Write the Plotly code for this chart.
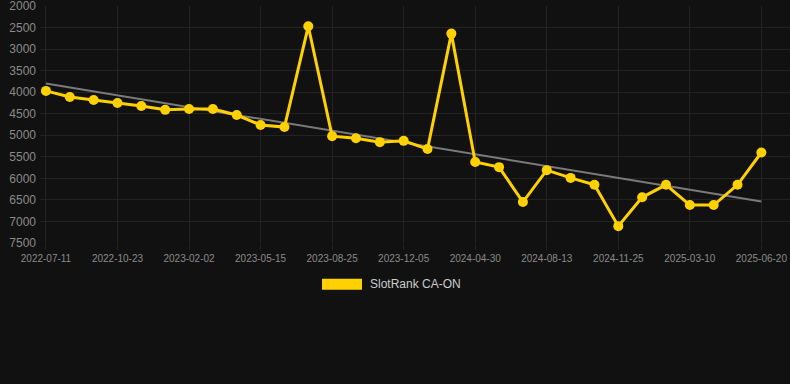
import plotly.graph_objects as go

dates = ["2022-07-11", "2022-08-15", "2022-09-19", "2022-10-23", "2022-11-26", "2022-12-30",
         "2023-02-02", "2023-03-08", "2023-04-11", "2023-05-15", "2023-06-18", "2023-07-22",
         "2023-08-25", "2023-09-28", "2023-11-01", "2023-12-05", "2024-01-23", "2024-03-12",
         "2024-04-30", "2024-06-04", "2024-07-09", "2024-08-13", "2024-09-16", "2024-10-21",
         "2024-11-25", "2024-12-29", "2025-02-04", "2025-03-10", "2025-04-13", "2025-05-17",
         "2025-06-20"]
ranks = [3970, 4110, 4180, 4250, 4320, 4410, 4390, 4390, 4530, 4760, 4810, 2470,
         5020, 5070, 5160, 5130, 5320, 2640, 5620, 5740, 6550, 5810, 5990, 6150,
         7110, 6440, 6150, 6620, 6620, 6150, 5400]
tick_labels = dates[::3]
y_ticks = [2000, 2500, 3000, 3500, 4000, 4500, 5000, 5500, 6000, 6500, 7000, 7500]
trend_dates = [dates[0], dates[-1]]
trend_values = [3800, 6535]
series_name = "SlotRank CA-ON"

BG = "#111111"
GRID = "#232323"
GOLD = "#FFD100"

fig = go.Figure()
fig.add_trace(go.Scatter(x=trend_dates, y=trend_values, mode="lines",
                         line=dict(color="#7a7a7a", width=2), showlegend=False, hoverinfo="skip"))
fig.add_trace(go.Scatter(x=dates, y=ranks, mode="lines+markers", name=series_name,
                         line=dict(color=GOLD, width=3),
                         marker=dict(color=GOLD, size=10), showlegend=False))

fig.update_layout(
    width=790, height=384,
    paper_bgcolor=BG, plot_bgcolor=BG,
    margin=dict(l=40, r=0, t=6, b=141),
    font=dict(family="Liberation Sans, Arial, sans-serif", color="#8a8a8a"),
    xaxis=dict(type="category", categoryorder="array", categoryarray=dates,
               range=[-0.25, 31.2], tickmode="array", tickvals=tick_labels, ticktext=tick_labels,
               showgrid=True, gridcolor=GRID, gridwidth=1, zeroline=False,
               ticks="outside", ticklen=6, tickcolor=GRID,
               tickfont=dict(size=10, color="#8a8a8a"), showline=False),
    yaxis=dict(range=[7501, 1999], tickvals=y_ticks,
               showgrid=True, gridcolor=GRID, gridwidth=1, zeroline=False,
               tickfont=dict(size=12, color="#8a8a8a"), ticklabelstandoff=3, showline=False,
               ticklabeloverflow="allow"),
    showlegend=False,
)

fig.add_shape(type="rect", xref="paper", yref="paper",
              x0=(322 - 40) / 750, x1=(362 - 40) / 750,
              y0=(243.3 - 290) / 237.3, y1=(243.3 - 279) / 237.3,
              fillcolor=GOLD, line=dict(width=0))
fig.add_annotation(xref="paper", yref="paper", x=(368 - 40) / 750, y=(243.3 - 284.5) / 237.3,
                   text=series_name, showarrow=False, xanchor="left", yanchor="middle",
                   font=dict(size=12, color="#cccccc", family="Liberation Sans, Arial, sans-serif"))

fig.write_html("out.html", config={"displayModeBar": False},
               post_script="document.body.style.margin='0';document.body.style.background='#111111';")
